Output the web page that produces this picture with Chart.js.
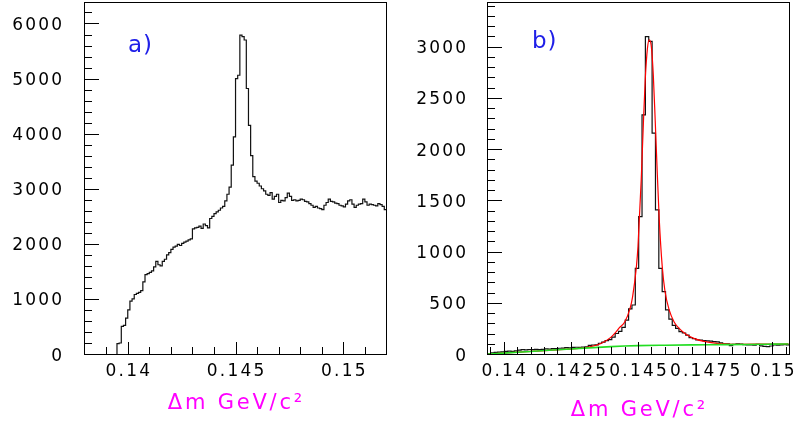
<!DOCTYPE html>
<html lang="en">
<head>
<meta charset="UTF-8" />
<title>Delta m spectra</title>
<script src="https://cdn.jsdelivr.net/npm/chart.js"></script>
<style>
  html, body { margin: 0; padding: 0; background: #fff; }
  body { width: 796px; height: 426px; position: relative; overflow: hidden; }
  .panel { position: absolute; top: 0; width: 398px; height: 426px; }
  canvas { display: block; }
</style>
</head>
<body>
  <div class="panel" style="left:0"><canvas id="chartA" width="398" height="426"></canvas></div>
  <div class="panel" style="left:398px"><canvas id="chartB" width="398" height="426"></canvas></div>

<script>
  // ---- panel a) : all candidates, bins of 0.0001 starting at 0.1395
  const aBinStart = 0.1395;
  const aBinWidth = 0.0001;
  const aCounts = [
    190, 200, 500, 520, 650, 800, 960, 1000, 1080, 1100,
    1120, 1150, 1310, 1440, 1460, 1480, 1510, 1580, 1680, 1620,
    1600, 1680, 1720, 1800, 1840, 1900, 1940, 1960, 1990, 1970,
    2010, 2030, 2050, 2070, 2090, 2270, 2290, 2300, 2320, 2280,
    2360, 2330, 2290, 2460, 2500, 2550, 2580, 2610, 2650, 2680,
    2780, 2900, 3030, 3430, 3940, 5000, 5060, 5790, 5760, 5700,
    4820, 4150, 3600, 3220, 3140, 3100, 3050, 3000, 2960, 2900,
    2880, 2930, 2810, 2860, 2900, 2750, 2790, 2780, 2840, 2920,
    2860, 2790, 2800, 2780, 2790, 2810, 2800, 2770, 2760, 2730,
    2700, 2660, 2680, 2650, 2640, 2620, 2700, 2750, 2810, 2770,
    2760, 2740, 2730, 2700, 2690, 2670, 2720, 2780, 2800, 2720,
    2660, 2700, 2720, 2730, 2810, 2760, 2700, 2720, 2710, 2700,
    2690, 2730, 2710, 2680, 2620
  ];
  const aXTicks = [0.139, 0.14, 0.141, 0.142, 0.143, 0.144, 0.145, 0.146, 0.147, 0.148, 0.149, 0.15, 0.151];
  const aXLabels = [0.14, 0.145, 0.15];
  const aYLabels = [0, 1000, 2000, 3000, 4000, 5000, 6000];

  // ---- panel b) : after cuts, bins of 0.000125 starting at 0.1394
  const bBinStart = 0.1394;
  const bBinWidth = 0.000125;
  const bCounts = [
    4, 12, 16, 18, 20, 26, 28, 26, 30, 38,
    42, 40, 44, 42, 46, 42, 46, 50, 48, 52,
    52, 56, 58, 62, 60, 64, 66, 64, 68, 70,
    84, 88, 90, 105, 115, 130, 140, 165, 200, 220,
    260, 330, 440, 478, 836, 1341, 2333, 3098, 3050, 2155,
    1406, 836, 608, 430, 340, 280, 250, 218, 205, 185,
    160, 150, 137, 135, 130, 128, 125, 120, 118, 110,
    100, 98, 82, 95, 98, 96, 92, 88, 90, 86,
    95, 80, 75, 72, 78, 88, 86, 90, 92, 90
  ];
  // fit curve (red)
  const fitX = [0.1394, 0.1410, 0.1420, 0.1428, 0.1432, 0.1436, 0.1440, 0.1442, 0.1443, 0.1445,
                0.1447, 0.1448, 0.14494, 0.1450, 0.14512, 0.1452, 0.14527, 0.14535, 0.14542, 0.1455,
                0.14557, 0.14564, 0.14572, 0.14579, 0.1459, 0.1460, 0.14616, 0.14635, 0.14653, 0.1468,
                0.1471, 0.1475, 0.1480, 0.1488, 0.1495, 0.1506];
  const fitY = [0, 25, 41, 55, 70, 100, 165, 220, 255, 310,
                440, 560, 850, 1050, 1700, 2250, 2680, 2980, 3065, 2990,
                2720, 2280, 1750, 1320, 860, 620, 430, 310, 250, 190,
                150, 120, 102, 95, 96, 98];
  // background curve (green)
  const bkgX = [0.1394, 0.1400, 0.1410, 0.1420, 0.1430, 0.1440, 0.1445, 0.1450, 0.1460, 0.1470, 0.1480, 0.1490, 0.1500, 0.1506];
  const bkgY = [0, 9, 25, 41, 57, 72, 78, 82, 86, 89, 91, 93, 96, 98];
  const bXTicks = [0.1395, 0.14, 0.1405, 0.141, 0.1415, 0.142, 0.1425, 0.143, 0.1435, 0.144, 0.1445, 0.145,
                   0.1455, 0.146, 0.1465, 0.147, 0.1475, 0.148, 0.1485, 0.149, 0.1495, 0.15, 0.1505];
  const bXLabels = [0.14, 0.1425, 0.145, 0.1475, 0.15];
  const bYLabels = [0, 500, 1000, 1500, 2000, 2500, 3000];

  const FONT = '"DejaVu Sans"';
  const TITLE = 'Δm GeV/c²';
  const LABEL_SPACING = 2.2;

  function steps(from, to, step) {
    const out = [];
    for (let v = from; v <= to + 1e-9; v += step) out.push(Math.round(v));
    return out;
  }

  // histogram as step line through bin low edges
  function histPoints(start, width, counts) {
    const pts = [{ x: start, y: 0 }];
    counts.forEach((c, i) => pts.push({ x: +(start + i * width).toFixed(7), y: c }));
    pts.push({ x: +(start + counts.length * width).toFixed(7), y: counts[counts.length - 1] });
    return pts;
  }

  function curvePoints(xs, ys) {
    return xs.map((x, i) => ({ x: x, y: ys[i] }));
  }

  // frame, inward tick marks, tick labels, axis title and panel tag
  function framePlugin(cfg) {
    return {
      id: 'frame',
      afterDraw(chart) {
        const ctx = chart.ctx;
        const area = chart.chartArea;
        const xs = chart.scales.x, ys = chart.scales.y;
        ctx.save();
        ctx.strokeStyle = '#000';
        ctx.lineWidth = 1;
        ctx.strokeRect(area.left + 0.5, area.top + 0.5, area.right - area.left, area.bottom - area.top);
        ctx.beginPath();
        xs.ticks.forEach(t => {
          const px = Math.round(xs.getPixelForValue(t.value)) + 0.5;
          const len = cfg.xLabels.includes(t.value) ? 12 : 7;
          ctx.moveTo(px, area.bottom);
          ctx.lineTo(px, area.bottom - len);
        });
        ys.ticks.forEach(t => {
          const py = Math.round(ys.getPixelForValue(t.value)) + 0.5;
          const len = cfg.yLabels.includes(t.value) ? 15 : 8;
          ctx.moveTo(area.left, py);
          ctx.lineTo(area.left + len, py);
        });
        ctx.stroke();

        // tick labels
        ctx.letterSpacing = LABEL_SPACING + 'px';
        ctx.font = '17px ' + FONT;
        ctx.fillStyle = '#000';
        ctx.textBaseline = 'alphabetic';
        ctx.textAlign = 'center';
        cfg.xLabels.forEach(v => {
          ctx.fillText(String(v), xs.getPixelForValue(v) + LABEL_SPACING / 2, area.bottom + 22);
        });
        ctx.textAlign = 'right';
        cfg.yLabels.forEach(v => {
          ctx.fillText(String(v), area.left - cfg.yGap + LABEL_SPACING, ys.getPixelForValue(v) + 6.5);
        });

        // axis title
        ctx.letterSpacing = '2.8px';
        ctx.font = '21px ' + FONT;
        ctx.fillStyle = '#ff00ff';
        ctx.textAlign = 'center';
        ctx.fillText(TITLE, (area.left + area.right) / 2 + 1.4, cfg.titleY);

        // panel tag
        ctx.letterSpacing = '1px';
        ctx.font = '23px ' + FONT;
        ctx.fillStyle = '#2020e8';
        ctx.textAlign = 'left';
        ctx.fillText(cfg.tag, cfg.tagX, cfg.tagY);
        ctx.restore();
      }
    };
  }

  function resetPadding(s) {
    s.paddingTop = 0; s.paddingBottom = 0; s.paddingLeft = 0; s.paddingRight = 0;
  }

  function makeOptions(cfg) {
    return {
      responsive: false,
      animation: false,
      events: [],
      layout: { padding: { top: 2, right: cfg.padRight, left: 0, bottom: 0 } },
      plugins: { legend: { display: false }, tooltip: { enabled: false } },
      scales: {
        x: {
          type: 'linear',
          bounds: 'data',
          min: cfg.xMin,
          max: cfg.xMax,
          grid: { display: false, drawTicks: false },
          border: { display: false },
          ticks: { display: false },
          afterBuildTicks: s => { s.ticks = cfg.xTicks.map(v => ({ value: v })); },
          afterFit: s => { s.height = 72; resetPadding(s); }
        },
        y: {
          type: 'linear',
          bounds: 'data',
          min: 0,
          max: cfg.yMax,
          grid: { display: false, drawTicks: false },
          border: { display: false },
          ticks: { display: false },
          afterBuildTicks: s => { s.ticks = cfg.yTicks.map(v => ({ value: v })); },
          afterFit: s => { s.width = cfg.yWidth; resetPadding(s); }
        }
      }
    };
  }

  const cfgA = {
    xMin: 0.13797, xMax: 0.15198, yMax: 6390, padRight: 12, yWidth: 84, yGap: 22,
    xTicks: aXTicks, xLabels: aXLabels, yTicks: steps(0, 6200, 200), yLabels: aYLabels,
    tag: 'a)', tagX: 128, tagY: 52, titleY: 409
  };
  new Chart(document.getElementById('chartA'), {
    type: 'line',
    data: {
      datasets: [{
        data: histPoints(aBinStart, aBinWidth, aCounts),
        stepped: true, borderColor: '#111', borderWidth: 1.2, pointRadius: 0, fill: false
      }]
    },
    options: makeOptions(cfgA),
    plugins: [framePlugin(cfgA)]
  });

  const cfgB = {
    xMin: 0.13938, xMax: 0.15062, yMax: 3435, padRight: 7, yWidth: 89, yGap: 21,
    xTicks: bXTicks, xLabels: bXLabels, yTicks: steps(0, 3400, 100), yLabels: bYLabels,
    tag: 'b)', tagX: 134, tagY: 48, titleY: 416
  };
  new Chart(document.getElementById('chartB'), {
    type: 'line',
    data: {
      datasets: [
        {
          data: curvePoints(bkgX, bkgY), order: 0,
          borderColor: '#22dd22', borderWidth: 1.6, pointRadius: 0, fill: false,
          cubicInterpolationMode: 'monotone'
        },
        {
          data: curvePoints(fitX, fitY), order: 1,
          borderColor: '#ff0000', borderWidth: 1.2, pointRadius: 0, fill: false,
          cubicInterpolationMode: 'monotone'
        },
        {
          data: histPoints(bBinStart, bBinWidth, bCounts), order: 2,
          stepped: true, borderColor: '#111', borderWidth: 1.2, pointRadius: 0, fill: false
        }
      ]
    },
    options: makeOptions(cfgB),
    plugins: [framePlugin(cfgB)]
  });
</script>
</body>
</html>
